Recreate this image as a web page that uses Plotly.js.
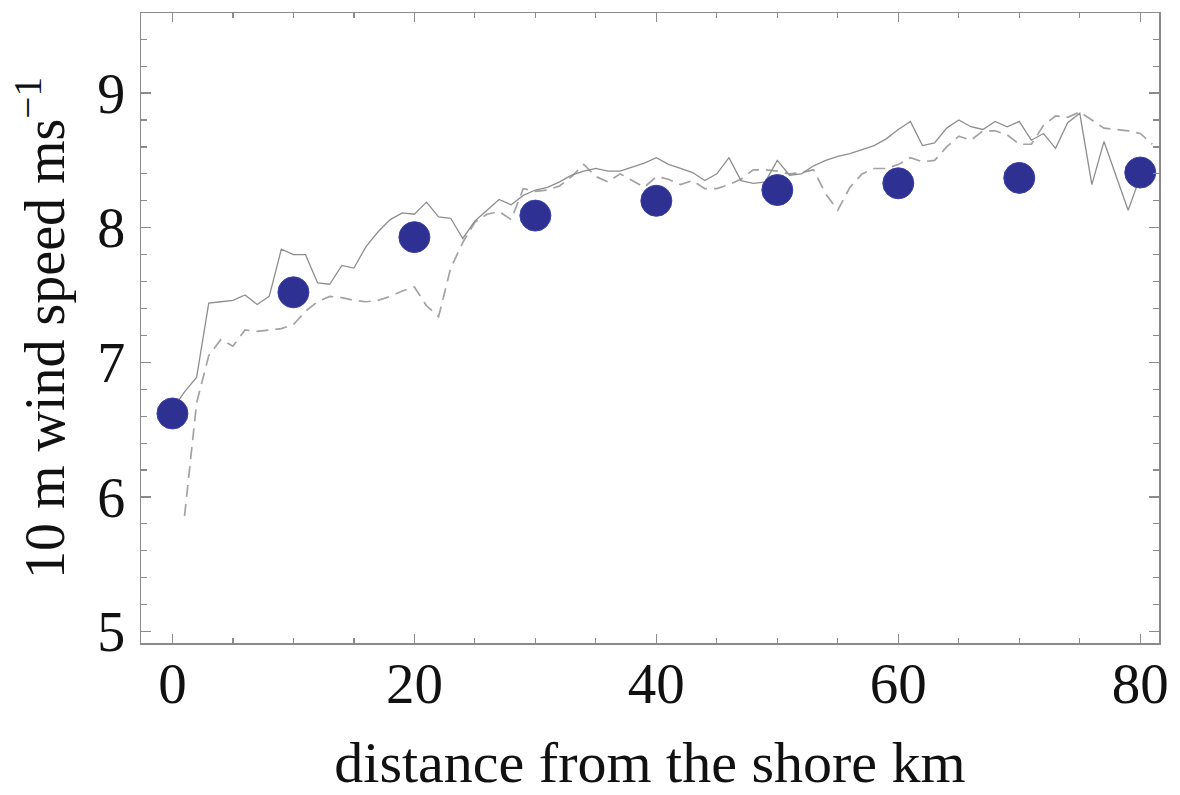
<!DOCTYPE html>
<html>
<head>
<meta charset="utf-8">
<script src="https://cdn.plot.ly/plotly-3.0.1.min.js"></script>
<style>html,body{margin:0;padding:0;background:#fff;}#chart{width:1180px;height:795px;}</style>
</head>
<body>
<div id="chart"></div>
<script>
// Dot (model) values every 10 km
const dotDistance = [0, 10, 20, 30, 40, 50, 60, 70, 80];
const dotSpeed = [6.62, 7.52, 7.93, 8.09, 8.20, 8.28, 8.33, 8.37, 8.41];

// Solid line series
const solidDistance = [0,1,2,3,4,5,6,7,8,9,10,11,12,13,14,15,16,17,18,19,20,21,22,23,24,25,26,27,28,29,30,31,32,33,34,35,36,37,38,39,40,41,42,43,44,45,46,47,48,49,50,51,52,53,54,55,56,57,58,59,60,61,62,63,64,65,66,67,68,69,70,71,72,73,74,75,76,77,78,79,80,81];
const solidSpeed = [6.65,6.78,6.89,7.44,7.45,7.46,7.50,7.43,7.49,7.84,7.80,7.80,7.59,7.58,7.72,7.70,7.86,7.97,8.06,8.11,8.10,8.19,8.08,8.07,7.92,8.05,8.13,8.21,8.17,8.24,8.28,8.30,8.34,8.39,8.42,8.44,8.42,8.42,8.45,8.48,8.52,8.47,8.44,8.41,8.35,8.40,8.52,8.35,8.33,8.34,8.50,8.39,8.40,8.46,8.50,8.53,8.55,8.58,8.61,8.66,8.73,8.79,8.61,8.63,8.74,8.80,8.75,8.73,8.79,8.75,8.79,8.65,8.70,8.59,8.78,8.85,8.32,8.64,8.39,8.13,8.38,8.45];

// Dashed line series
const dashedDistance = [1,2,3,4,5,6,7,8,9,10,11,12,13,14,15,16,17,18,19,20,21,22,23,24,25,26,27,28,29,30,31,32,33,34,35,36,37,38,39,40,41,42,43,44,45,46,47,48,49,50,51,52,53,54,55,56,57,58,59,60,61,62,63,64,65,66,67,68,69,70,71,72,73,74,75,76,77,78,79,80,81];
const dashedSpeed = [5.86,6.70,7.05,7.17,7.12,7.24,7.23,7.24,7.25,7.28,7.38,7.45,7.49,7.48,7.46,7.45,7.46,7.49,7.53,7.56,7.42,7.34,7.70,7.89,8.04,8.10,8.12,8.06,8.29,8.27,8.28,8.31,8.38,8.47,8.38,8.34,8.40,8.35,8.30,8.38,8.36,8.32,8.35,8.29,8.29,8.32,8.36,8.43,8.43,8.42,8.40,8.41,8.43,8.25,8.13,8.30,8.40,8.44,8.44,8.47,8.52,8.49,8.50,8.60,8.68,8.65,8.72,8.72,8.69,8.62,8.62,8.76,8.83,8.82,8.86,8.80,8.74,8.73,8.72,8.70,8.62];

const xTicks = [0, 20, 40, 60, 80];
const yTicks = [5, 6, 7, 8, 9];

const FONT = 'Liberation Serif, Times New Roman, serif';
const AXC = '#8a8a8a';

const traces = [
  {x: dashedDistance, y: dashedSpeed, type: 'scatter', mode: 'lines',
   line: {color: '#a3a3a3', width: 1.7, dash: '12px,7px'}, hoverinfo: 'skip'},
  {x: solidDistance, y: solidSpeed, type: 'scatter', mode: 'lines',
   line: {color: '#8e8e8e', width: 1.3}, hoverinfo: 'skip'},
  {x: dotDistance, y: dotSpeed, type: 'scatter', mode: 'markers',
   marker: {color: '#2e3192', size: 31, line: {color: '#3a3fa8', width: 1}}}
];

const layout = {
  width: 1180, height: 795,
  margin: {l: 141, r: 21, t: 13, b: 152},
  paper_bgcolor: '#fff', plot_bgcolor: '#fff',
  showlegend: false,
  font: {family: FONT, color: '#111'},
  xaxis: {
    range: [-2.6, 81.55], tickvals: xTicks, ticktext: xTicks.map(String),
    ticks: 'inside', ticklen: 9, tickwidth: 1.3, tickcolor: AXC,
    minor: {dtick: 5, tick0: 0, ticks: 'inside', ticklen: 5, tickwidth: 1.2, tickcolor: AXC},
    showline: true, linecolor: AXC, linewidth: 1.5, mirror: 'ticks',
    showgrid: false, zeroline: false,
    tickfont: {family: FONT, size: 57, color: '#111'},
    ticklabelstandoff: -10,
    title: {text: 'distance from the shore km', font: {family: FONT, size: 58, color: '#111'}, standoff: 30}
  },
  yaxis: {
    range: [4.915, 9.595], tickvals: yTicks, ticktext: yTicks.map(String),
    ticks: 'inside', ticklen: 10, tickwidth: 1.3, tickcolor: AXC,
    minor: {dtick: 0.2, tick0: 5, ticks: 'inside', ticklen: 6, tickwidth: 1.2, tickcolor: AXC},
    showline: true, linecolor: AXC, linewidth: 1.5, mirror: 'ticks',
    showgrid: false, zeroline: false,
    tickfont: {family: FONT, size: 56, color: '#111'},
    ticklabelstandoff: 3,
    title: {text: '10 m wind speed ms<sup>−1</sup>', font: {family: FONT, size: 56, color: '#111'}, standoff: 14}
  }
};

Plotly.newPlot('chart', traces, layout, {staticPlot: true, displayModeBar: false});
</script>
</body>
</html>
